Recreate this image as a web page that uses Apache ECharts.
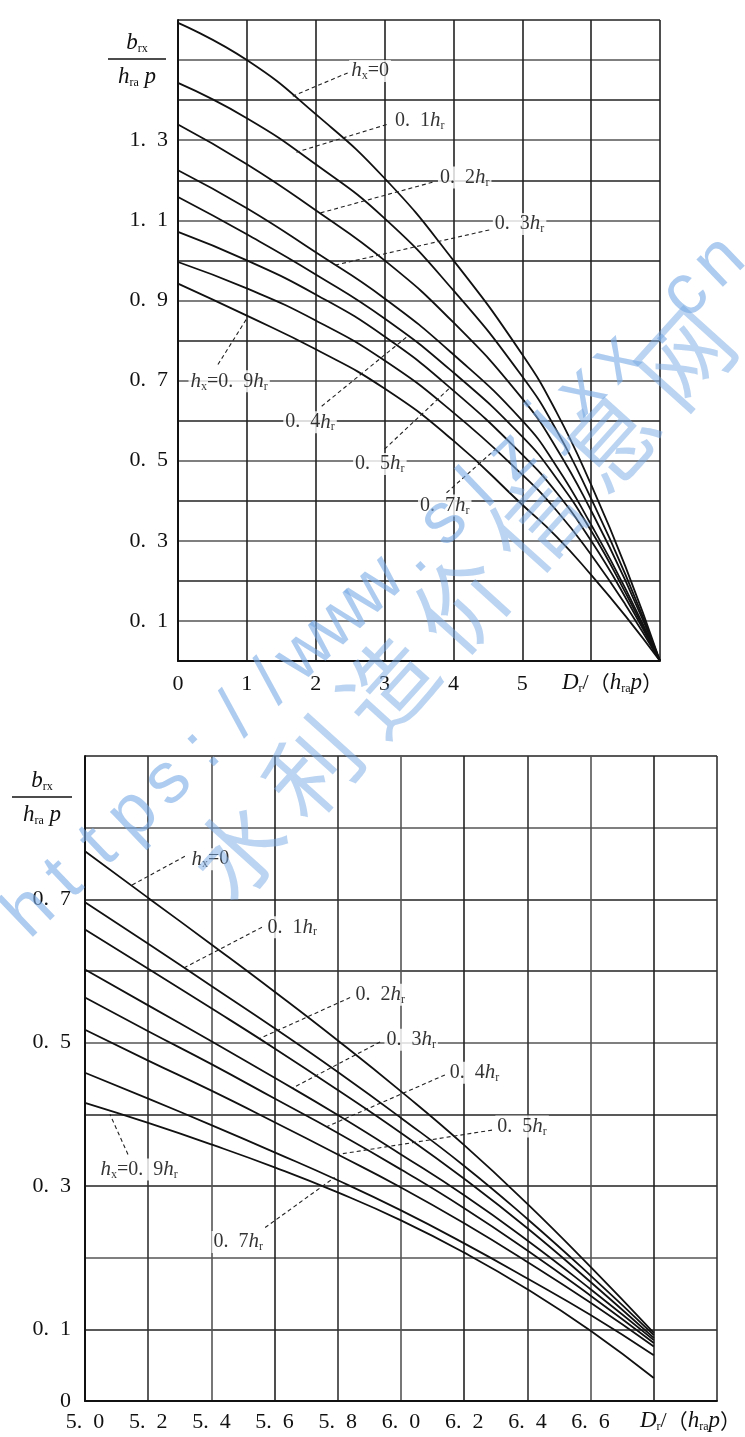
<!DOCTYPE html>
<html><head><meta charset="utf-8">
<script src="https://cdn.jsdelivr.net/npm/echarts@6/dist/echarts.min.js"></script>
<style>html,body{margin:0;padding:0;background:#fff}#c{width:745px;height:1437px}</style>
</head><body><div id="c"></div>
<script>
// ---------- data: upper chart (0 - 7) ----------
const topX   = [0, 1, 2, 3, 4, 5, 5.5, 6, 6.5, 7];
const topH00 = [1.593, 1.500, 1.365, 1.205, 1.000, 0.765, 0.620, 0.440, 0.235, 0];
const topH01 = [1.443, 1.355, 1.240, 1.105, 0.925, 0.710, 0.575, 0.405, 0.215, 0];
const topH02 = [1.339, 1.240, 1.125, 1.000, 0.845, 0.655, 0.530, 0.375, 0.200, 0];
const topH03 = [1.225, 1.130, 1.020, 0.905, 0.765, 0.600, 0.485, 0.340, 0.180, 0];
const topH04 = [1.158, 1.065, 0.965, 0.855, 0.720, 0.560, 0.455, 0.325, 0.170, 0];
const topH05 = [1.071, 1.000, 0.915, 0.810, 0.675, 0.515, 0.420, 0.300, 0.158, 0];
const topH07 = [0.996, 0.930, 0.850, 0.750, 0.620, 0.465, 0.375, 0.265, 0.140, 0];
const topH09 = [0.942, 0.862, 0.778, 0.680, 0.550, 0.390, 0.310, 0.215, 0.112, 0];
const topXTicks = ['0', '1', '2', '3', '4', '5'];

// ---------- data: lower chart (5.0 - 7.0) ----------
const botX   = [5.0, 5.2, 5.4, 5.6, 5.8, 6.0, 6.2, 6.4, 6.6, 6.8];
const botH00 = [0.767, 0.702, 0.637, 0.571, 0.503, 0.432, 0.357, 0.275, 0.187, 0.095];
const botH01 = [0.696, 0.638, 0.579, 0.520, 0.459, 0.395, 0.328, 0.254, 0.175, 0.092];
const botH02 = [0.658, 0.603, 0.548, 0.492, 0.434, 0.374, 0.310, 0.241, 0.166, 0.088];
const botH03 = [0.602, 0.552, 0.502, 0.451, 0.399, 0.344, 0.287, 0.224, 0.156, 0.085];
const botH04 = [0.563, 0.516, 0.470, 0.422, 0.374, 0.323, 0.269, 0.210, 0.147, 0.081];
const botH05 = [0.518, 0.475, 0.433, 0.389, 0.344, 0.298, 0.248, 0.194, 0.137, 0.076];
const botH07 = [0.458, 0.422, 0.385, 0.347, 0.308, 0.266, 0.220, 0.171, 0.120, 0.064];
const botH09 = [0.416, 0.388, 0.358, 0.326, 0.291, 0.252, 0.207, 0.156, 0.098, 0.032];
const botXTicks = ['5.0', '5.2', '5.4', '5.6', '5.8', '6.0', '6.2', '6.4', '6.6'];

// ---------- curve labels (data coords of label left-middle) ----------
const topLabels = [
  [2.478, 1.473, '{i|h}{s|x}{n|=0}'],
  [3.116, 1.349, '{n|0.\u20021}{i|h}{s|r}'],
  [3.768, 1.207, '{n|0.\u20022}{i|h}{s|r}'],
  [4.565, 1.091, '{n|0.\u20023}{i|h}{s|r}'],
  [0.145, 0.698, '{i|h}{s|x}{n|=0.\u20029}{i|h}{s|r}'],
  [1.522, 0.596, '{n|0.\u20024}{i|h}{s|r}'],
  [2.536, 0.492, '{n|0.\u20025}{i|h}{s|r}'],
  [3.478, 0.388, '{n|0.\u20027}{i|h}{s|r}']
];
const topPointers = [
  [2.464, 1.468, 1.667, 1.410],
  [3.030, 1.339, 1.720, 1.270],
  [3.696, 1.195, 2.058, 1.118],
  [4.520, 1.076, 2.275, 0.988],
  [0.580, 0.740, 1.000, 0.855],
  [2.087, 0.636, 3.330, 0.810],
  [3.000, 0.529, 3.950, 0.682],
  [3.900, 0.420, 4.600, 0.527]
];
const botLabels = [
  [5.329, 0.756, '{i|h}{s|x}{n|=0}'],
  [5.570, 0.661, '{n|0.\u20021}{i|h}{s|r}'],
  [5.848, 0.567, '{n|0.\u20022}{i|h}{s|r}'],
  [5.946, 0.504, '{n|0.\u20023}{i|h}{s|r}'],
  [6.146, 0.458, '{n|0.\u20024}{i|h}{s|r}'],
  [6.297, 0.383, '{n|0.\u20025}{i|h}{s|r}'],
  [5.399, 0.222, '{n|0.\u20027}{i|h}{s|r}'],
  [5.041, 0.323, '{i|h}{s|x}{n|=0.\u20029}{i|h}{s|r}']
];
const botPointers = [
  [5.316, 0.760, 5.149, 0.720],
  [5.560, 0.661, 5.316, 0.605],
  [5.839, 0.563, 5.554, 0.506],
  [5.934, 0.501, 5.658, 0.437],
  [6.139, 0.455, 5.766, 0.383],
  [6.288, 0.378, 5.800, 0.344],
  [5.570, 0.242, 5.790, 0.312],
  [5.136, 0.344, 5.079, 0.400]
];

// ---------- layout ----------
const SERIF = '"Liberation Serif","DejaVu Serif",serif';
const CJK = '"Noto Sans CJK SC",sans-serif';
const G1 = {left: 178, top: 20, width: 482, height: 641};
const G2 = {left: 85, top: 756, width: 632, height: 645};

const rich = {
  n: {fontFamily: SERIF, fontSize: 20, color: '#000', lineHeight: 22},
  i: {fontFamily: SERIF, fontSize: 21, fontStyle: 'italic', color: '#000', lineHeight: 22},
  s: {fontFamily: SERIF, fontSize: 12, color: '#000', verticalAlign: 'bottom', lineHeight: 22, padding: [9, 0, 0, 0]}
};

function fmt1(v) { return v.toFixed(1).replace('.', '.\u2002'); }

function curve(xs, ys, gi) {
  return {
    type: 'line', xAxisIndex: gi, yAxisIndex: gi,
    data: xs.map((x, k) => [x, ys[k]]),
    symbol: 'none', smooth: 0.5,
    lineStyle: {color: '#111', width: 1.8}, z: 3, silent: true
  };
}
function pointers(arr, gi) {
  return {
    type: 'lines', coordinateSystem: 'cartesian2d', xAxisIndex: gi, yAxisIndex: gi,
    data: arr.map(p => ({coords: [[p[0], p[1]], [p[2], p[3]]]})),
    lineStyle: {color: '#222', width: 1.1, type: [4, 3], opacity: 1}, z: 4, silent: true
  };
}
function labels(arr, gi) {
  return {
    type: 'scatter', xAxisIndex: gi, yAxisIndex: gi,
    data: arr.map(a => [a[0], a[1], a[2]]),
    symbolSize: 1, itemStyle: {color: 'rgba(0,0,0,0)'}, z: 6, silent: true,
    label: {show: true, position: 'right', distance: 0, formatter: p => p.data[2],
      backgroundColor: '#fff', padding: [0, 2], rich: rich}
  };
}

const axisLabelBase = {fontFamily: SERIF, fontSize: 22, color: '#111'};

const option = {
  backgroundColor: '#fff',
  animation: false,
  grid: [
    Object.assign({containLabel: false}, G1),
    Object.assign({containLabel: false}, G2)
  ],
  xAxis: [
    {type: 'value', gridIndex: 0, min: 0, max: 7, interval: 1,
     axisLine: {show: true, onZero: false, lineStyle: {color: '#111', width: 2}},
     axisTick: {show: false},
     axisLabel: Object.assign({margin: 12, formatter: v => (v <= 5 ? topXTicks[v] : '')}, axisLabelBase),
     splitLine: {show: true, lineStyle: {color: '#222', width: 1.6}}},
    {type: 'value', gridIndex: 1, min: 5, max: 7, interval: 0.2,
     axisLine: {show: true, onZero: false, lineStyle: {color: '#111', width: 2}},
     axisTick: {show: false},
     axisLabel: Object.assign({margin: 10, formatter: v => { const k = Math.round((v - 5) / 0.2); return k <= 8 ? botXTicks[k].replace('.', '.\u2002') : ''; }}, axisLabelBase),
     splitLine: {show: true, lineStyle: {color: ['#222', '#333', '#555'], width: 1.6}}}
  ],
  yAxis: [
    {type: 'value', gridIndex: 0, min: 0, max: 1.6, interval: 0.1,
     axisLine: {show: true, onZero: false, lineStyle: {color: '#111', width: 2}},
     axisTick: {show: false},
     axisLabel: Object.assign({margin: 10, formatter: v => { const k = Math.round(v * 10); return (k % 2 === 1 && k <= 13) ? fmt1(v) : ''; }}, axisLabelBase),
     splitLine: {show: true, lineStyle: {color: ['#222', '#555'], width: 1.5}}},
    {type: 'value', gridIndex: 1, min: 0, max: 0.9, interval: 0.1,
     axisLine: {show: true, onZero: false, lineStyle: {color: '#111', width: 2}},
     axisTick: {show: false},
     axisLabel: Object.assign({margin: 14, formatter: v => { const k = Math.round(v * 10); return k === 0 ? '0' : ((k % 2 === 1 && k <= 7) ? fmt1(v) : ''); }}, axisLabelBase),
     splitLine: {show: true, lineStyle: {color: ['#222', '#222', '#555'], width: 1.5}}}
  ],
  series: [
    curve(topX, topH00, 0), curve(topX, topH01, 0), curve(topX, topH02, 0), curve(topX, topH03, 0),
    curve(topX, topH04, 0), curve(topX, topH05, 0), curve(topX, topH07, 0), curve(topX, topH09, 0),
    curve(botX, botH00, 1), curve(botX, botH01, 1), curve(botX, botH02, 1), curve(botX, botH03, 1),
    curve(botX, botH04, 1), curve(botX, botH05, 1), curve(botX, botH07, 1), curve(botX, botH09, 1),
    pointers(topPointers, 0), pointers(botPointers, 1),
    labels(topLabels, 0), labels(botLabels, 1)
  ]
};

// ---------- titles (fractions, axis names) and watermark ----------
const titleRich = {
  i: {fontFamily: SERIF, fontSize: 23, fontStyle: 'italic', fill: '#111', lineHeight: 24},
  n: {fontFamily: SERIF, fontSize: 22, fill: '#111', lineHeight: 24},
  w: {fontFamily: CJK, fontSize: 21, fill: '#111', lineHeight: 24},
  s: {fontFamily: SERIF, fontSize: 12, fill: '#111', verticalAlign: 'bottom', lineHeight: 24, padding: [10, 0, 0, 0]}
};
function fraction(cx, cy, w) {
  return {type: 'group', silent: true, children: [
    {type: 'text', x: cx, y: cy - 16, style: {text: '{i|b}{s|rx}', rich: titleRich, align: 'center', verticalAlign: 'middle'}},
    {type: 'rect', shape: {x: cx - w / 2, y: cy - 0.8, width: w, height: 1.6}, style: {fill: '#111'}},
    {type: 'text', x: cx, y: cy + 18, style: {text: '{i|h}{s|ra}{i| p}', rich: titleRich, align: 'center', verticalAlign: 'middle'}}
  ]};
}
function xName(x, y) {
  return {type: 'text', x: x, y: y, silent: true,
    style: {text: '{i|D}{s|r}{n|/}{w|（}{i|h}{s|ra}{i|p}{w|）}', rich: titleRich, align: 'left', verticalAlign: 'middle'}};
}
const wmUrl = 'https://www.slzjxx.cn';
const wmCn = '水利造价信息网';
const wm = [];
const ang = Math.atan2(32.5, 34);
for (let k = 0; k < wmUrl.length; k++) {
  wm.push({type: 'text', x: 30 + 34.5 * k, y: 912 - 32.5 * k, rotation: ang, silent: true, z: 100,
    style: {text: wmUrl[k], font: '72px "Liberation Sans", Arial, sans-serif', fill: 'rgba(120,170,228,0.6)', align: 'center', verticalAlign: 'middle'}});
}
const ang2 = Math.atan2(82, 74);
for (let k = 0; k < wmCn.length; k++) {
  wm.push({type: 'text', x: 238 + 74.5 * k, y: 850 - 82 * k, rotation: ang2, silent: true, z: 100,
    style: {text: wmCn[k], font: '92px "Noto Sans CJK SC", sans-serif', fill: 'rgba(120,170,228,0.5)', align: 'center', verticalAlign: 'middle'}});
}

option.graphic = [
  fraction(137, 59, 58),
  fraction(42, 797, 60),
  xName(G1.left + G1.width - 98, G1.top + G1.height + 22),
  xName(G2.left + G2.width - 77, G2.top + G2.height + 20)
].concat(wm);

const chart = echarts.init(document.getElementById('c'), null, {renderer: 'canvas'});
chart.setOption(option);
</script>
</body></html>
